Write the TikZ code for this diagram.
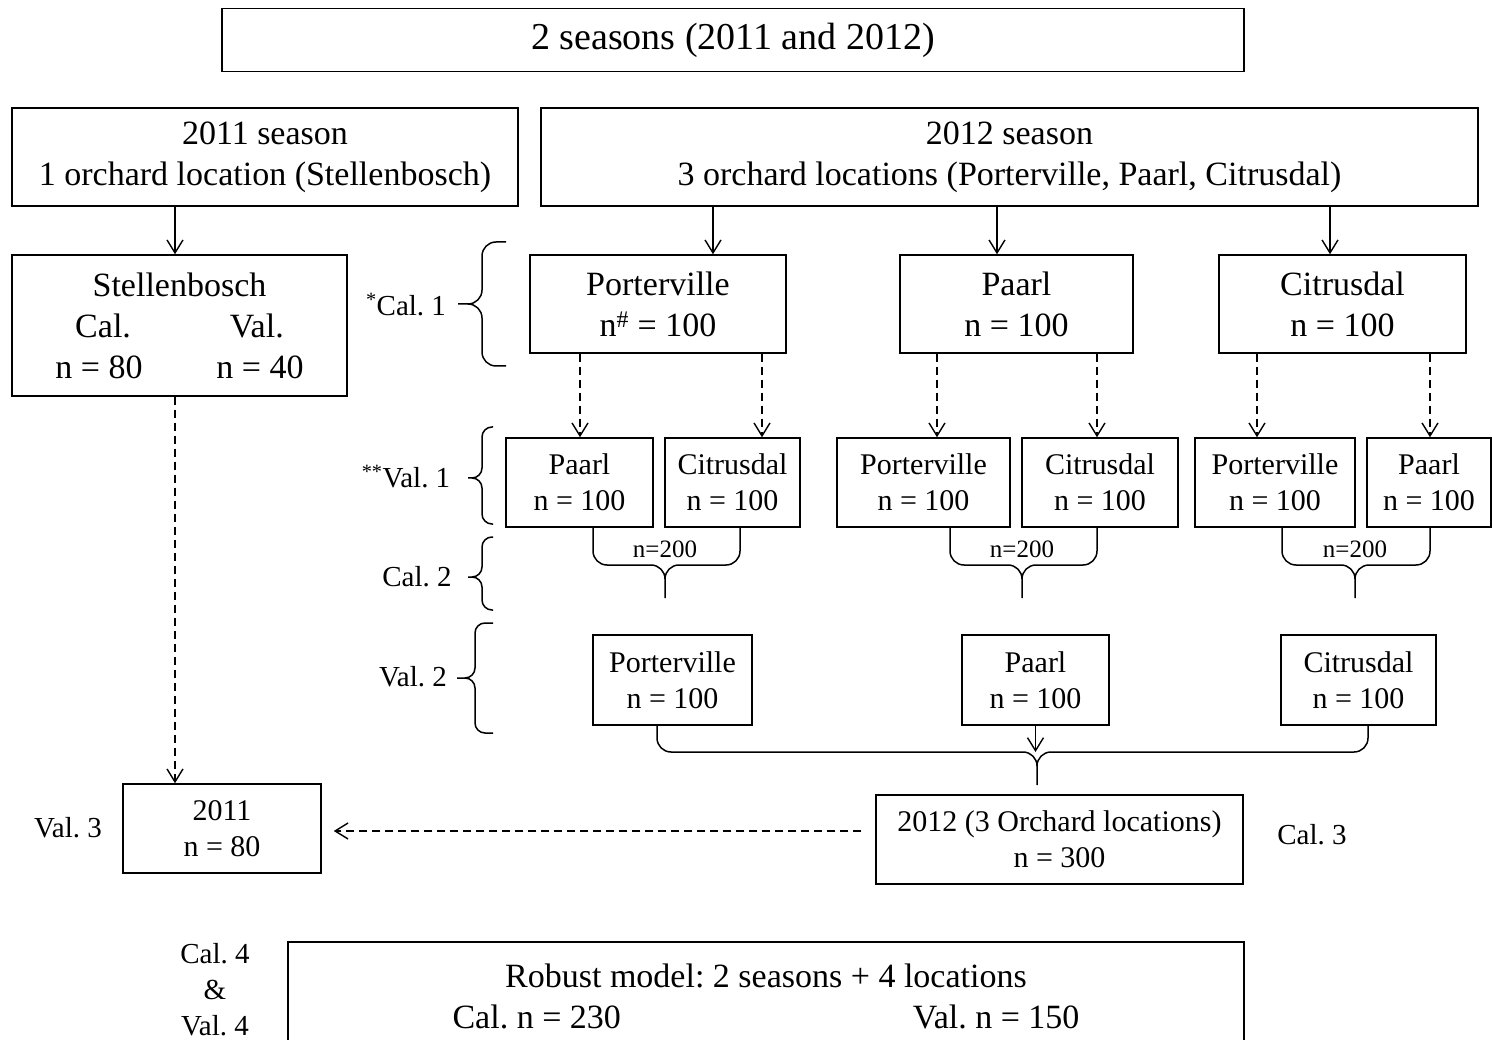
\documentclass[tikz,border=0pt]{standalone}
\usepackage{fontspec}
\setmainfont{Liberation Serif}
\usetikzlibrary{arrows.meta}

\tikzset{
  box/.style={draw, line width=1.5pt, inner sep=0pt, align=center, font=\fontsize{34}{41}\selectfont},
  sbox/.style={box, font=\fontsize{30}{36}\selectfont},
  lbl/.style={align=center, font=\fontsize{29}{36}\selectfont},
  ar/.style={line width=1.4pt, -{Straight Barb[length=13pt,width=16pt]}},
  dar/.style={ar, dash pattern=on 8pt off 5pt},
  grp/.style={line width=1.5pt, rounded corners=10pt},
}

\begin{document}
\frenchspacing
\begin{tikzpicture}[x=1pt, y=-1pt]
      \clip (0,0) rectangle (1492,1040);
      \fill[white] (0,0) rectangle (1492,1040);
      \node[box, minimum width=1022pt, minimum height=63pt, font=\fontsize{38}{44}\selectfont] (seasons) at (733,40) {2 seasons (2011 and 2012)};
      \node[box, minimum width=506pt, minimum height=98pt] (s2011) at (265,157) {2011 season\\1 orchard location (Stellenbosch)};
      \node[box, minimum width=937pt, minimum height=98pt] (s2012) at (1009.5,157) {2012 season\\3 orchard locations (Porterville, Paarl, Citrusdal)};
      \node[box, minimum width=335pt, minimum height=141pt] (stel) at (179.5,325.5) {Stellenbosch\\Cal.\hspace{99pt}Val.\\n = 80\hspace{74pt}n = 40};
      \node[box, minimum width=256pt, minimum height=98pt] (por) at (658,304) {Porterville\\n\textsuperscript{\#} = 100};
      \node[box, minimum width=233pt, minimum height=98pt] (paa) at (1016.5,304) {Paarl\\n = 100};
      \node[box, minimum width=247pt, minimum height=98pt] (cit) at (1342.5,304) {Citrusdal\\n = 100};
      \node[sbox, minimum width=147pt, minimum height=89pt] (v1a) at (579.5,482.5) {Paarl\\n = 100};
      \node[sbox, minimum width=135pt, minimum height=89pt] (v1b) at (732.5,482.5) {Citrusdal\\n = 100};
      \node[sbox, minimum width=173pt, minimum height=89pt] (v1c) at (923.5,482.5) {Porterville\\n = 100};
      \node[sbox, minimum width=156pt, minimum height=89pt] (v1d) at (1100,482.5) {Citrusdal\\n = 100};
      \node[sbox, minimum width=160pt, minimum height=89pt] (v1e) at (1275,482.5) {Porterville\\n = 100};
      \node[sbox, minimum width=124pt, minimum height=89pt] (v1f) at (1429,482.5) {Paarl\\n = 100};
      \node[sbox, minimum width=159pt, minimum height=90pt] (v2a) at (672.5,680) {Porterville\\n = 100};
      \node[sbox, minimum width=147pt, minimum height=90pt] (v2b) at (1035.5,680) {Paarl\\n = 100};
      \node[sbox, minimum width=155pt, minimum height=90pt] (v2c) at (1358.5,680) {Citrusdal\\n = 100};
      \node[sbox, minimum width=198pt, minimum height=89pt] (t2011) at (222,828.5) {2011\\n = 80};
      \node[sbox, minimum width=367pt, minimum height=89pt] (t2012) at (1059.5,839.5) {2012 (3 Orchard locations)\\n = 300};
      \node[box, minimum width=956pt, minimum height=108pt] (robust) at (766,996) {Robust model: 2 seasons + 4 locations\\Cal. n = 230\hspace{292pt}Val. n = 150};
      \node[lbl] (lc1) at (406,305) {\textsuperscript{*}Cal. 1};
      \node[lbl] (lv1) at (406,477) {\textsuperscript{**}Val. 1};
      \node[lbl] (lc2) at (417,577) {Cal. 2};
      \node[lbl] (lv2) at (413,677) {Val. 2};
      \node[lbl] (lv3) at (68,828) {Val. 3};
      \node[lbl] (lc3) at (1312,835) {Cal. 3};
      \node[lbl] (l4) at (215,990) {Cal. 4\\\&\\Val. 4};
      \node[font=\fontsize{25}{30}\selectfont] (na) at (665,549) {n=200};
      \node[font=\fontsize{25}{30}\selectfont] (nb) at (1022,549) {n=200};
      \node[font=\fontsize{25}{30}\selectfont] (nc) at (1355,549) {n=200};
      \coordinate (m2) at (1037,752);
      \draw[ar] (s2011.south -| 175,0) -- (stel.north -| 175,0);
      \draw[ar] (s2012.south -| 713,0) -- (por.north -| 713,0);
      \draw[ar] (s2012.south -| 997,0) -- (paa.north -| 997,0);
      \draw[ar] (s2012.south -| 1330,0) -- (cit.north -| 1330,0);
      \draw[dar] (por.south -| 580,0) -- (v1a.north -| 580,0);
      \draw[dar] (por.south -| 762,0) -- (v1b.north -| 762,0);
      \draw[dar] (paa.south -| 937,0) -- (v1c.north -| 937,0);
      \draw[dar] (paa.south -| 1097,0) -- (v1d.north -| 1097,0);
      \draw[dar] (cit.south -| 1257,0) -- (v1e.north -| 1257,0);
      \draw[dar] (cit.south -| 1430,0) -- (v1f.north -| 1430,0);
      \draw[dar] (stel.south -| 175,0) -- (t2011.north -| 175,0);
      \draw[dar, shorten <=14pt, shorten >=12pt] (t2012.west |- 0,831) -- (t2011.east |- 0,831);
      \draw[ar] (v2b.south) -- (v2b.south |- m2);
      \draw[grp, rounded corners=14pt] (506,242) -- (482,242) -- (482,304) -- (458,304) (506,366) -- (482,366) -- (482,304) -- (458,304);
      \draw[grp] (493,427) -- (482,427) -- (482,478) -- (468,478) (493,524) -- (482,524) -- (482,478) -- (468,478);
      \draw[grp] (493,537) -- (482,537) -- (482,577) -- (468,577) (493,610) -- (482,610) -- (482,577) -- (468,577);
      \draw[grp] (493,623) -- (475,623) -- (475,678) -- (457,678) (493,733) -- (475,733) -- (475,678) -- (457,678);
      \draw[grp, rounded corners=14pt] (v1a.south -| 593,0) -- (593,565) -- (665,565) -- (665,598) (v1b.south -| 740,0) -- (740,565) -- (665,565) -- (665,598);
      \draw[grp, rounded corners=14pt] (v1c.south -| 950,0) -- (950,565) -- (1022,565) -- (1022,598) (v1d.south -| 1097,0) -- (1097,565) -- (1022,565) -- (1022,598);
      \draw[grp, rounded corners=14pt] (v1e.south -| 1282,0) -- (1282,565) -- (1355,565) -- (1355,598) (v1f.south -| 1430,0) -- (1430,565) -- (1355,565) -- (1355,598);
      \draw[grp, rounded corners=14pt] (v2a.south -| 657,0) -- (657,752) -- (m2) -- (1037,785) (v2c.south -| 1368,0) -- (1368,752) -- (m2) -- (1037,785);
    \end{tikzpicture}
\end{document}
